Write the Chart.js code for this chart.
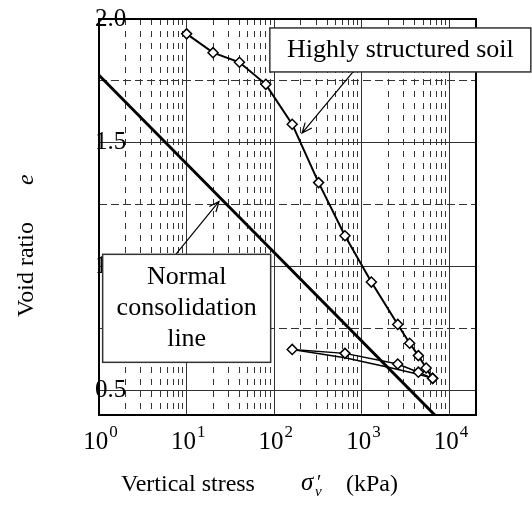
<!DOCTYPE html>
<html>
<head>
<meta charset="utf-8">
<script src="https://cdn.jsdelivr.net/npm/chart.js@4.4.1/dist/chart.umd.min.js"></script>
<style>
  html, body { margin: 0; padding: 0; background: #fff; }
  #wrap { width: 532px; height: 511px; }
</style>
</head>
<body>
<div id="wrap"><canvas id="chart" width="532" height="511"></canvas></div>
<script>
// vertical stress (kPa) and void ratio
const structuredStress = [10, 20, 40, 80, 160, 320, 640, 1280, 2560, 3500, 4400, 5400, 6400]
const structuredVoid = [1.94, 1.864, 1.825, 1.736, 1.575, 1.339, 1.124, 0.937, 0.766, 0.69, 0.64, 0.59, 0.548]

const reloadStress = [160, 640, 2560, 4400, 6400]
const reloadVoid = [0.665, 0.649, 0.606, 0.573, 0.548]

const unloadStress = [6400, 4400, 2000, 640, 160]
const unloadVoid = [0.548, 0.565, 0.593, 0.631, 0.665]

const nclStress = [1, 6780]
const nclVoid = [1.773, 0.4]

const xGridValues = [1, 2, 3, 4, 5, 6, 7, 8, 9,
    10, 20, 30, 40, 50, 60, 70, 80, 90,
    100, 200, 300, 400, 500, 600, 700, 800, 900,
    1000, 2000, 3000, 4000, 5000, 6000, 7000, 8000, 9000,
    10000, 20000]
const xLabelValues = [1, 10, 100, 1000, 10000]
const yTickValues = [0.5, 0.75, 1.0, 1.25, 1.5, 1.75, 2.0]

const serif = '"Liberation Serif", "Times New Roman", serif'

function toPoints(xs, ys) {
    return xs.map((x, i) => ({ x: x, y: ys[i] }))
}

function isDecade(v) {
    const l = Math.log10(v)
    return Math.abs(l - Math.round(l)) < 1e-9
}

function drawArrow(ctx, x1, y1, x2, y2) {
    const ang = Math.atan2(y2 - y1, x2 - x1)
    const len = 11
    ctx.beginPath()
    ctx.moveTo(x1, y1)
    ctx.lineTo(x2, y2)
    ctx.moveTo(x2 - len * Math.cos(ang - 0.4), y2 - len * Math.sin(ang - 0.4))
    ctx.lineTo(x2, y2)
    ctx.lineTo(x2 - len * Math.cos(ang + 0.4), y2 - len * Math.sin(ang + 0.4))
    ctx.stroke()
}

function drawBox(ctx, cx, cy, w, h, lines, lineGap) {
    ctx.fillStyle = '#fff'
    ctx.fillRect(cx - w / 2, cy - h / 2, w, h)
    ctx.strokeStyle = '#333'
    ctx.lineWidth = 1.5
    ctx.strokeRect(cx - w / 2, cy - h / 2, w, h)
    ctx.fillStyle = '#000'
    ctx.font = '26px ' + serif
    ctx.textAlign = 'center'
    ctx.textBaseline = 'middle'
    const top = cy - (lines.length - 1) * lineGap / 2
    lines.forEach((t, i) => ctx.fillText(t, cx, top + i * lineGap))
}

const decorations = {
    id: 'decorations',
    afterDraw(chart) {
        const { ctx, chartArea: a, scales: { x, y } } = chart
        ctx.save()

        // frame
        ctx.strokeStyle = '#000'
        ctx.lineWidth = 2
        ctx.strokeRect(a.left, a.top, a.right - a.left, a.bottom - a.top)

        // x tick labels 10^n
        ctx.fillStyle = '#000'
        ctx.textAlign = 'left'
        ctx.textBaseline = 'alphabetic'
        xLabelValues.forEach(v => {
            const px = x.getPixelForValue(v)
            const exp = String(Math.round(Math.log10(v)))
            ctx.font = '25px ' + serif
            const w1 = ctx.measureText('10').width
            ctx.font = '17px ' + serif
            const w2 = ctx.measureText(exp).width
            const start = px + 1.5 - (w1 + w2 + 1) / 2
            ctx.font = '25px ' + serif
            ctx.fillText('10', start, 449)
            ctx.font = '17px ' + serif
            ctx.fillText(exp, start + w1 + 1, 437)
        })

        // x title
        ctx.font = '24px ' + serif
        ctx.fillText('Vertical stress', 121, 491)
        ctx.font = 'italic 25px ' + serif
        ctx.fillText('\u03c3', 301, 490)
        ctx.font = '20px ' + serif
        ctx.fillText('\u2032', 317, 489)
        ctx.font = 'italic 15px ' + serif
        ctx.fillText('v', 315, 496)
        ctx.font = '24px ' + serif
        ctx.fillText('(kPa)', 346, 491)

        // y title
        ctx.save()
        ctx.translate(32.5, 317)
        ctx.rotate(-Math.PI / 2)
        ctx.font = '24px ' + serif
        ctx.fillText('Void ratio', 0, 0)
        ctx.font = 'italic 24px ' + serif
        ctx.fillText('e', 132, 0)
        ctx.restore()

        // annotations
        ctx.strokeStyle = '#000'
        ctx.lineWidth = 1.2
        drawArrow(ctx, x.getPixelForValue(791), y.getPixelForValue(1.786),
            x.getPixelForValue(207), y.getPixelForValue(1.539))
        drawArrow(ctx, x.getPixelForValue(7.56), y.getPixelForValue(1.05),
            x.getPixelForValue(23.4), y.getPixelForValue(1.263))

        drawBox(ctx, x.getPixelForValue(2740), y.getPixelForValue(1.875), 261, 44,
            ['Highly structured soil'], 0)
        drawBox(ctx, x.getPixelForValue(10), y.getPixelForValue(0.831), 168, 108,
            ['Normal', 'consolidation', 'line'], 31)

        ctx.restore()
    }
}

const diamond = {
    pointStyle: 'rectRot',
    pointRadius: 5,
    pointHoverRadius: 5,
    pointBackgroundColor: '#fff',
    pointBorderColor: '#000',
    pointBorderWidth: 1.5
}

new Chart(document.getElementById('chart'), {
    type: 'scatter',
    data: {
        datasets: [
            Object.assign({
                label: 'Highly structured soil',
                data: toPoints(structuredStress, structuredVoid),
                showLine: true,
                borderColor: '#000',
                borderWidth: 2,
                tension: 0
            }, diamond),
            Object.assign({
                label: 'Reloading',
                data: toPoints(reloadStress, reloadVoid),
                showLine: true,
                borderColor: '#000',
                borderWidth: 1.5,
                tension: 0
            }, diamond),
            {
                label: 'Unloading',
                data: toPoints(unloadStress, unloadVoid),
                showLine: true,
                borderColor: '#000',
                borderWidth: 1.5,
                pointRadius: 0,
                tension: 0
            },
            {
                label: 'Normal consolidation line',
                data: toPoints(nclStress, nclVoid),
                showLine: true,
                borderColor: '#000',
                borderWidth: 3,
                pointRadius: 0,
                clip: 0,
                tension: 0
            }
        ]
    },
    options: {
        responsive: false,
        animation: false,
        devicePixelRatio: 1,
        layout: { padding: { left: 99, right: 56, top: 19, bottom: 96 } },
        plugins: {
            legend: { display: false },
            tooltip: { enabled: false }
        },
        scales: {
            x: {
                type: 'logarithmic',
                min: 1,
                max: 20000,
                afterBuildTicks: scale => {
                    scale.ticks = xGridValues.map(v => ({ value: v }))
                },
                afterFit: scale => { scale.height = 0 },
                ticks: { display: false },
                grid: {
                    drawTicks: false,
                    color: '#333',
                    lineWidth: 1
                },
                border: {
                    display: false,
                    dash: ctx => (ctx.tick && isDecade(ctx.tick.value)) ? [] : [6, 6]
                }
            },
            y: {
                min: 0.4,
                max: 2.0,
                afterBuildTicks: scale => {
                    scale.ticks = yTickValues.map(v => ({ value: v }))
                },
                afterFit: scale => { scale.width = 0 },
                ticks: {
                    mirror: true,
                    padding: -4,
                    color: '#000',
                    font: { family: serif, size: 25 },
                    callback: v => (Math.abs(v * 2 - Math.round(v * 2)) < 1e-9) ? v.toFixed(1) : ''
                },
                grid: {
                    drawTicks: false,
                    color: '#333',
                    lineWidth: 1
                },
                border: {
                    display: false,
                    dash: ctx => (ctx.tick && Math.abs(ctx.tick.value * 2 - Math.round(ctx.tick.value * 2)) < 1e-9) ? [] : [8, 4]
                }
            }
        }
    },
    plugins: [decorations]
})
</script>
</body>
</html>
